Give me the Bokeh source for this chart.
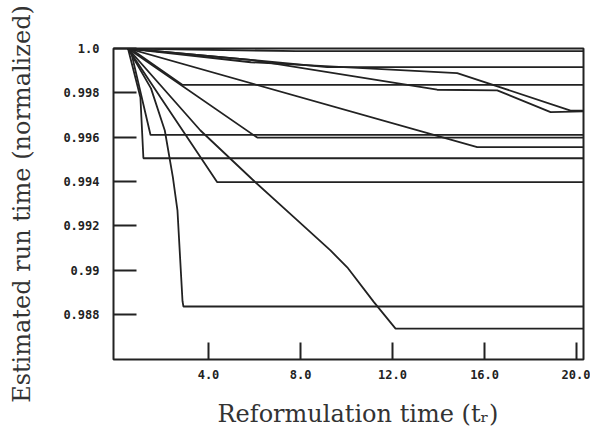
from bokeh.plotting import figure
from bokeh.models import Range1d, FixedTicker, Title
from bokeh.embed import file_html
from bokeh.resources import INLINE

# Reformulation time (t_r) and estimated normalized run time for each curve
s1_t = [0.5, 1.5, 2.1, 2.45, 2.65, 2.87, 2.91, 20.3]
s1_v = [1.0, 0.9982, 0.9963, 0.9942, 0.9927, 0.9886, 0.98836, 0.98836]

s2_t = [0.5, 3.65, 5.91, 7.71, 9.30, 10.03, 11.19, 12.13, 20.3]
s2_v = [1.0, 0.9963, 0.99409, 0.99239, 0.99089, 0.99013, 0.98856, 0.98736, 0.98736]

s3_t = [0.5, 1.91, 4.38, 20.3]
s3_v = [1.0, 0.9978, 0.99397, 0.99397]

s4_t = [0.5, 1.04, 1.17, 20.3]
s4_v = [1.0, 0.99779, 0.99505, 0.99505]

s5_t = [0.6, 1.48, 20.3]
s5_v = [1.0, 0.99610, 0.99610]

s6_t = [0.5, 6.12, 20.3]
s6_v = [1.0, 0.99598, 0.99598]

s7_t = [0.5, 15.68, 20.3]
s7_v = [1.0, 0.99555, 0.99555]

s8_t = [0.6, 2.86, 20.3]
s8_v = [1.0, 0.99836, 0.99836]

s9_t = [0.5, 9.16, 20.3]
s9_v = [1.0, 0.99916, 0.99916]

s10_t = [0.5, 5.84, 14.81, 19.74, 20.3]
s10_v = [1.0, 0.99938, 0.99889, 0.99720, 0.99720]

s11_t = [0.5, 5.83, 13.94, 16.55, 18.87, 20.3]
s11_v = [1.0, 0.99949, 0.99814, 0.99811, 0.99713, 0.99716]

s12_t = [0.5, 7.8, 20.3]
s12_v = [1.0, 0.99988, 0.99988]

x_ticks = [4, 8, 12, 16, 20]
x_tick_labels = ["4.0", "8.0", "12.0", "16.0", "20.0"]
y_ticks = [0.988, 0.99, 0.992, 0.994, 0.996, 0.998, 1.0]
y_tick_labels = ["0.988", "0.99", "0.992", "0.994", "0.996", "0.998", "1.0"]

x_title = "Reformulation time (t\u1d63)"
y_title = "Estimated run time (normalized)"

INK = "#222222"
TXT = "#333333"

x0, x1 = -0.13, 20.3
y0, y1 = 0.98597, 1.0

p = figure(
    frame_width=470, frame_height=311,
    x_range=Range1d(x0, x1), y_range=Range1d(y0, y1),
    output_backend="svg", toolbar_location=None,
    min_border_left=113, min_border_right=7,
    min_border_top=48, min_border_bottom=70,
)
p.background_fill_color = "white"
p.border_fill_color = "white"
p.grid.visible = False
p.outline_line_color = INK
p.outline_line_width = 2

series = [
    (s1_t, s1_v), (s2_t, s2_v), (s3_t, s3_v), (s4_t, s4_v),
    (s5_t, s5_v), (s6_t, s6_v), (s7_t, s7_v), (s8_t, s8_v),
    (s9_t, s9_v), (s10_t, s10_v), (s11_t, s11_v), (s12_t, s12_v),
]
for t, v in series:
    p.line(t, v, line_color=INK, line_width=1.8)

for ax in (p.xaxis[0], p.yaxis[0]):
    ax.axis_line_color = None
    ax.major_tick_out = 0
    ax.minor_tick_in = 0
    ax.minor_tick_out = 0
    ax.major_tick_line_color = INK
    ax.major_tick_line_width = 2
    ax.major_label_text_font = "DejaVu Sans Mono"
    ax.major_label_text_font_style = "bold"
    ax.major_label_text_font_size = "12px"
    ax.major_label_text_color = INK

p.xaxis.ticker = FixedTicker(ticks=x_ticks)
p.xaxis.major_label_overrides = dict(zip(x_ticks, x_tick_labels))
p.xaxis.major_tick_in = 17
p.xaxis.major_label_standoff = 10

p.yaxis.ticker = FixedTicker(ticks=y_ticks)
p.yaxis.major_label_overrides = dict(zip(y_ticks, y_tick_labels))
p.yaxis.major_tick_in = 23
p.yaxis.major_label_standoff = 14
p.yaxis.axis_label = y_title
p.yaxis.axis_label_text_font = "DejaVu Serif"
p.yaxis.axis_label_text_font_style = "normal"
p.yaxis.axis_label_text_font_size = "24px"
p.yaxis.axis_label_text_color = TXT
p.yaxis.axis_label_standoff = 24

xt = Title(
    text=x_title, align="left", offset=104, standoff=32,
    text_font="DejaVu Serif", text_font_style="normal",
    text_font_size="24px", text_color=TXT,
)
p.add_layout(xt, "below")

open("out.html", "w").write(file_html(p, INLINE))
